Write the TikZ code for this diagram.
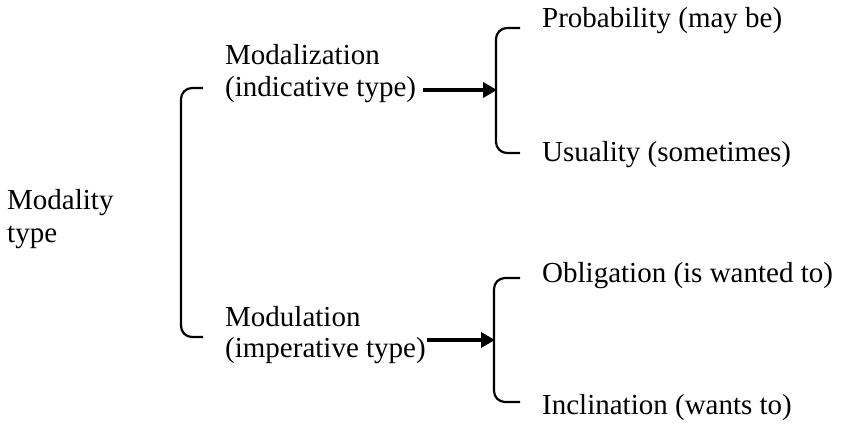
\documentclass[tikz,border=0pt]{standalone}
\usepackage{fontspec}
\setmainfont{Liberation Serif}
\usetikzlibrary{arrows.meta}
\begin{document}
\begin{tikzpicture}[x=1pt,y=-1pt,
  txt/.style={anchor=base west,inner sep=0pt,font=\fontsize{29}{33}\selectfont},
  brk/.style={line width=2.2pt,rounded corners=11pt},
  arr/.style={line width=3.5pt,-{Triangle[length=14pt,width=15pt]}}]
\useasboundingbox (0,0) rectangle (847,430);
% left column
\node[txt] (mod1) at (7,210) {Modality};
\node[txt] (mod2) at (7,243) {type};
% middle
\node[txt] (mz1) at (225,65) {Modalization};
\node[txt] (mz2) at (225,97) {(indicative type)};
\node[txt] (mu1) at (225,327) {Modulation};
\node[txt] (mu2) at (225,358) {(imperative type)};
% right
\node[txt] (prob) at (542,28) {Probability (may be)};
\node[txt] (usu) at (542,162) {Usuality (sometimes)};
\node[txt] (obl) at (542,283) {Obligation (is wanted to)};
\node[txt] (inc) at (542,415) {Inclination (wants to)};
% brackets
\draw[brk] (203,88) -- (181,88) -- (181,337) -- (203,337);
\draw[brk] (520,28) -- (496,28) -- (496,153) -- (520,153);
\draw[brk] (520,278) -- (494,278) -- (494,402) -- (520,402);
% arrow targets
\coordinate (t1) at (497,90);
\coordinate (t2) at (495,340);
\draw[arr] ([xshift=7pt]mz2.east |- t1) -- (t1);
\draw[arr] ([xshift=1pt]mu2.east |- t2) -- (t2);
\end{tikzpicture}
\end{document}
